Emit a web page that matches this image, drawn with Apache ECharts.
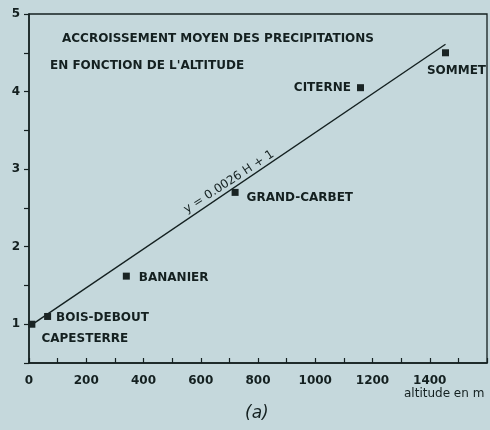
<!DOCTYPE html>
<html>
<head>
<meta charset="utf-8">
<script src="https://cdn.jsdelivr.net/npm/echarts@6/dist/echarts.min.js"></script>
<style>
  html, body { margin: 0; padding: 0; background: #c5d8dc; }
  #main { width: 490px; height: 430px; }
</style>
</head>
<body>
<div id="main"></div>
<script>
// stations (altitude in m, rainfall ratio)
const stations = ['CAPESTERRE', 'BOIS-DEBOUT', 'BANANIER', 'GRAND-CARBET', 'CITERNE', 'SOMMET'];
const altitudes = [10, 65, 340, 720, 1158, 1455];
const ratios = [1.0, 1.1, 1.62, 2.7, 4.05, 4.5];
// regression line as drawn
const fitX = [0, 1455];
const fitY = [0.97, 4.61];
const xTicks = [0, 200, 400, 600, 800, 1000, 1200, 1400];
const yTicks = [1, 2, 3, 4, 5];

const ink = '#142020';
const font = '"DejaVu Sans", Arial, sans-serif';

// where each station name sits around its marker
const labelPlace = {
  'CAPESTERRE': { position: 'bottom', distance: 5, offset: [53, 0] },
  'BOIS-DEBOUT': { position: 'right', distance: 5, offset: [0, 1] },
  'BANANIER': { position: 'right', distance: 9, offset: [0, 2] },
  'GRAND-CARBET': { position: 'right', distance: 8, offset: [0, 5] },
  'CITERNE': { position: 'left', distance: 6, offset: [0, 0] },
  'SOMMET': { position: 'bottom', distance: 9, offset: [11, 0] }
};

const chart = echarts.init(document.getElementById('main'));

const points = stations.map((s, i) => ({
  name: s,
  value: [altitudes[i], ratios[i]],
  label: labelPlace[s]
}));

chart.setOption({
  backgroundColor: '#c5d8dc',
  animation: false,
  grid: {
    left: 29, top: 14, right: 3, bottom: 67,
    show: true,
    borderColor: ink,
    borderWidth: 1.3,
    backgroundColor: 'transparent'
  },
  xAxis: {
    type: 'value',
    min: 0, max: 1600, interval: 100,
    axisLine: { lineStyle: { color: ink, width: 1.5 } },
    axisTick: { inside: true, length: 5, lineStyle: { color: ink, width: 1.2 } },
    splitLine: { show: false },
    axisLabel: {
      color: ink, fontFamily: font, fontSize: 12, fontWeight: 'bold', margin: 12,
      formatter: v => xTicks.indexOf(v) >= 0 ? String(v) : ''
    }
  },
  yAxis: {
    type: 'value',
    min: 0.5, max: 5, interval: 0.5,
    axisLine: { show: true, lineStyle: { color: ink, width: 1.5 } },
    axisTick: { show: true, length: 5, lineStyle: { color: ink, width: 1.2 } },
    splitLine: { show: false },
    axisLabel: {
      color: ink, fontFamily: font, fontSize: 12, fontWeight: 'bold', margin: 9,
      formatter: v => yTicks.indexOf(v) >= 0 ? String(v) : ''
    }
  },
  series: [
    {
      type: 'line',
      data: fitX.map((x, i) => [x, fitY[i]]),
      symbol: 'none',
      lineStyle: { color: ink, width: 1.4 },
      z: 2
    },
    {
      type: 'scatter',
      data: points,
      symbol: 'rect',
      symbolSize: 7,
      itemStyle: { color: '#1a2424', opacity: 1 },
      label: {
        show: true,
        formatter: '{b}',
        color: ink,
        fontFamily: font,
        fontSize: 12,
        fontWeight: 'bold'
      },
      z: 3
    }
  ],
  graphic: [
    {
      type: 'text', left: 62, top: 33,
      style: { text: 'ACCROISSEMENT MOYEN DES PRECIPITATIONS', fill: ink, font: 'bold 12px ' + font }
    },
    {
      type: 'text', left: 50, top: 60,
      style: { text: "EN FONCTION DE L'ALTITUDE", fill: ink, font: 'bold 12px ' + font }
    },
    {
      type: 'text', x: 229, y: 182, rotation: 0.58,
      style: { text: 'y = 0.0026 H + 1', fill: ink, font: '12px ' + font, align: 'center', verticalAlign: 'middle' }
    },
    {
      type: 'text', left: 404, top: 388,
      style: { text: 'altitude en m', fill: ink, font: '12px ' + font }
    },
    {
      type: 'text', left: 245, top: 405,
      style: { text: '(a)', fill: ink, font: 'italic 17px ' + font }
    }
  ]
});
</script>
</body>
</html>
